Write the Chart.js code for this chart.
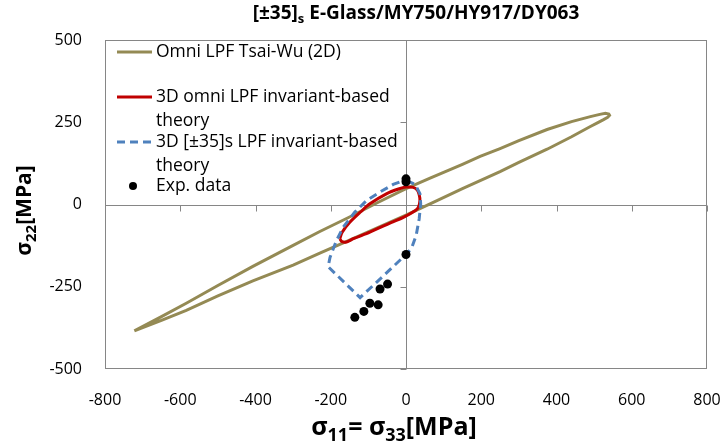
<!DOCTYPE html>
<html>
<head>
<meta charset="utf-8">
<title>[±35]s E-Glass/MY750/HY917/DY063</title>
<script src="https://cdn.jsdelivr.net/npm/chart.js@4.4.1/dist/chart.umd.min.js"></script>
<style>
  html, body { margin: 0; padding: 0; background: #fff; }
  #chart { display: block; }
</style>
</head>
<body>
<canvas id="chart" width="725" height="447"></canvas>
<script>
// Omni LPF Tsai-Wu (2D) envelope, upper branch then lower branch
const tsaiWuX = [-722, -650, -584, -500, -407, -300, -229, -150, -75, 0, 64, 150, 197, 250, 300, 375, 440, 490, 515, 530, 539, 541, 536, 525, 510, 490, 440, 375, 300, 250, 150, 64, 0, -75, -150, -229, -300, -407, -500, -584, -650, -722];
const tsaiWuY = [-384, -341, -300, -246, -188, -124, -82, -38, 6, 48, 80, 122, 146, 170, 194, 228, 252, 267, 274, 277, 275, 271, 265, 258, 249, 237, 206, 168, 128, 100, 48, 2, -32, -70, -108, -148, -184, -232, -278, -322, -352, -384];

// 3D omni LPF invariant-based theory
const omniX = [-176, -170, -150, -120, -96, -51, -20, 0, 19, 30, 35, 37, 33, 25, -7, -40, -96, -140, -158, -170, -176];
const omniY = [-104, -85, -55, -22, 2, 33, 47, 53, 52, 44, 30, 12, -8, -18, -39, -55, -84, -104, -114, -113, -104];

// 3D [±35]s LPF invariant-based theory
const laminateX = [2, 24, 37, 39, 35, 27, 15, 0, -60, -122, -207, -202, -185, -167, -136, -105, -69, -34, -11, 2];
const laminateY = [73, 61, 33, 2, -44, -94, -132, -152, -217, -283, -189, -161, -110, -69, -23, 12, 38, 61, 71, 73];

// experimental data
const expX = [0, 0, 0, -49, -69, -74, -96, -112, -136];
const expY = [78, 69, -152, -242, -257, -305, -300, -325, -343];

const legendLabels = [
  ['Omni LPF Tsai-Wu (2D)'],
  ['3D omni LPF invariant-based', 'theory'],
  ['3D [\u00b135]s LPF invariant-based', 'theory'],
  ['Exp. data']
];

const FONT = "'Open Sans', 'Noto Sans', sans-serif";
const AXIS_GREY = '#868686';

function toPoints(xs, ys) {
  return xs.map((x, i) => ({ x: x, y: ys[i] }));
}

// draws a run of text pieces, some of them subscripts
function drawRich(ctx, parts, x, y, size, align) {
  const subSize = Math.round(size * 0.7);
  let total = 0;
  parts.forEach(p => {
    ctx.font = 'bold ' + (p.sub ? subSize : size) + 'px ' + FONT;
    p.w = ctx.measureText(p.t).width;
    total += p.w;
  });
  let cx = align === 'center' ? x - total / 2 : x;
  ctx.textAlign = 'left';
  ctx.textBaseline = 'middle';
  parts.forEach(p => {
    ctx.font = 'bold ' + (p.sub ? subSize : size) + 'px ' + FONT;
    ctx.fillText(p.t, cx, p.sub ? y + size * 0.3 : y);
    cx += p.w;
  });
}

const frame = {
  id: 'frame',
  beforeDatasetsDraw(chart) {
    const { ctx, chartArea: a, scales } = chart;
    const x0 = Math.round(scales.x.getPixelForValue(0)) + 0.5;
    const y0 = Math.round(scales.y.getPixelForValue(0)) + 0.5;
    ctx.save();
    ctx.strokeStyle = AXIS_GREY;
    ctx.lineWidth = 1;
    ctx.strokeRect(a.left + 0.5, a.top + 0.5, a.right - a.left - 1, a.bottom - a.top - 1);
    ctx.beginPath();
    ctx.moveTo(a.left, y0); ctx.lineTo(a.right, y0);
    ctx.moveTo(x0, a.top); ctx.lineTo(x0, a.bottom);
    scales.x.ticks.forEach(t => {
      const px = Math.round(scales.x.getPixelForValue(t.value)) + 0.5;
      ctx.moveTo(px, y0); ctx.lineTo(px, y0 + 6);
    });
    scales.y.ticks.forEach(t => {
      const py = Math.round(scales.y.getPixelForValue(t.value)) + 0.5;
      ctx.moveTo(x0, py); ctx.lineTo(x0 - 6, py);
    });
    ctx.stroke();
    ctx.restore();
  },
  afterDraw(chart) {
    const { ctx, chartArea: a } = chart;
    ctx.save();
    ctx.fillStyle = '#000';
    // title
    drawRich(ctx, [{ t: '[\u00b135]' }, { t: 's', sub: true }, { t: ' E-Glass/MY750/HY917/DY063' }], 416, 14, 19, 'center');
    // x axis title
    drawRich(ctx, [{ t: '\u03c3' }, { t: '11', sub: true }, { t: '= \u03c3' }, { t: '33', sub: true }, { t: '[MPa]' }],
      394, 428, 25, 'center');
    // y axis title
    ctx.translate(25, (a.top + a.bottom) / 2 + 6);
    ctx.rotate(-Math.PI / 2);
    drawRich(ctx, [{ t: '\u03c3' }, { t: '22', sub: true }, { t: '[MPa]' }], 0, 0, 21, 'center');
    ctx.restore();

    // legend inside the plot
    ctx.save();
    const ds = chart.data.datasets;
    const rows = [12, 57, 102, 146];
    ctx.font = '17.5px ' + FONT;
    ctx.textBaseline = 'middle';
    ctx.textAlign = 'left';
    legendLabels.forEach((lines, i) => {
      const y = a.top + rows[i];
      const d = ds[i];
      if (d.showLine) {
        ctx.strokeStyle = d.borderColor;
        ctx.lineWidth = d.borderWidth;
        ctx.setLineDash(d.borderDash || []);
        ctx.beginPath();
        ctx.moveTo(a.left + 12, y);
        ctx.lineTo(a.left + 47, y);
        ctx.stroke();
        ctx.setLineDash([]);
      } else {
        ctx.fillStyle = '#000';
        ctx.beginPath();
        ctx.arc(a.left + 28, y, 4, 0, Math.PI * 2);
        ctx.fill();
      }
      ctx.fillStyle = '#000';
      lines.forEach((s, j) => ctx.fillText(s, a.left + 51, y + j * 24));
    });
    ctx.restore();
  }
};

new Chart(document.getElementById('chart'), {
  type: 'scatter',
  data: {
    datasets: [
      {
        label: legendLabels[0].join(' '),
        data: toPoints(tsaiWuX, tsaiWuY),
        showLine: true,
        borderColor: '#948A54',
        borderWidth: 3,
        pointRadius: 0,
        tension: 0,
        order: 3
      },
      {
        label: legendLabels[1].join(' '),
        data: toPoints(omniX, omniY),
        showLine: true,
        borderColor: '#C00000',
        borderWidth: 3,
        pointRadius: 0,
        tension: 0.3,
        order: 2
      },
      {
        label: legendLabels[2].join(' '),
        data: toPoints(laminateX, laminateY),
        showLine: true,
        borderColor: '#4F81BD',
        borderWidth: 3,
        borderDash: [8, 5],
        pointRadius: 0,
        tension: 0,
        order: 1
      },
      {
        label: legendLabels[3].join(' '),
        data: toPoints(expX, expY),
        showLine: false,
        backgroundColor: '#000',
        borderColor: '#000',
        borderWidth: 0,
        pointRadius: 4.5,
        order: 0
      }
    ]
  },
  options: {
    responsive: false,
    animation: false,
    layout: { padding: { top: 40, right: 18, left: 0, bottom: 0 } },
    plugins: {
      legend: { display: false },
      tooltip: { enabled: false }
    },
    scales: {
      x: {
        type: 'linear',
        min: -800,
        max: 800,
        ticks: { stepSize: 200, padding: 22, color: '#000', font: { family: FONT, size: 16 } },
        grid: { display: false, drawTicks: false },
        border: { display: false },
        afterFit(scale) {
          scale.height = 78;
          scale.paddingLeft = 0;
          scale.paddingRight = 0;
        }
      },
      y: {
        type: 'linear',
        min: -500,
        max: 500,
        ticks: { stepSize: 250, padding: 23, color: '#000', font: { family: FONT, size: 16 } },
        grid: { display: false, drawTicks: false },
        border: { display: false },
        afterFit(scale) { scale.width = 105; }
      }
    }
  },
  plugins: [frame]
});
</script>
</body>
</html>
